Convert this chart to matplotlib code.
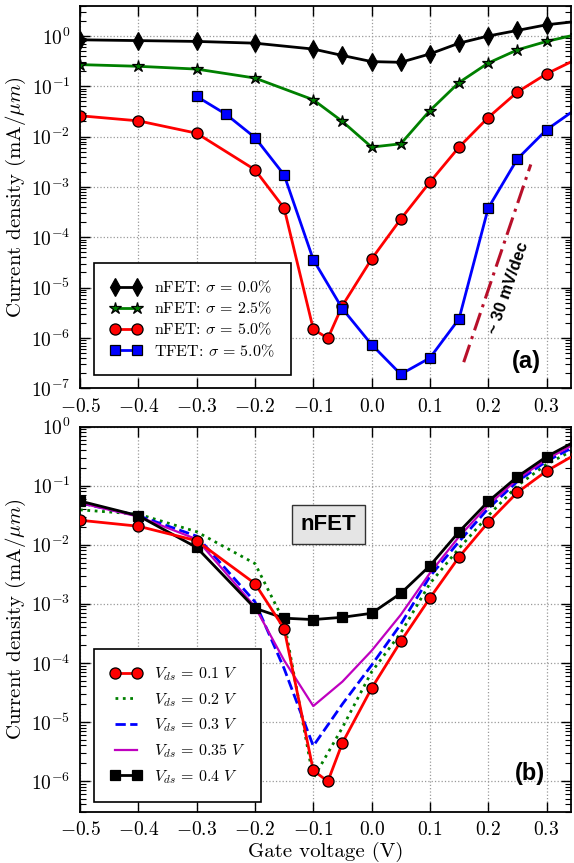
import matplotlib
matplotlib.use("Agg")
import matplotlib.pyplot as plt
from matplotlib.ticker import LogLocator, NullFormatter

plt.rcParams['font.family'] = 'serif'
plt.rcParams['font.serif'] = ['cmr10']
plt.rcParams['mathtext.fontset'] = 'cm'
plt.rcParams['axes.formatter.use_mathtext'] = True
plt.rcParams['axes.unicode_minus'] = True

# ---- data (panel a) ----
vg = [-0.5, -0.4, -0.3, -0.2, -0.1, -0.05, 0.0, 0.05, 0.1, 0.15, 0.2, 0.25, 0.3, 0.35]
nfet_s00 = [0.84, 0.81, 0.78, 0.72, 0.55, 0.41, 0.31, 0.30, 0.44, 0.72, 1.0, 1.29, 1.67, 1.94]
nfet_s25 = [0.27, 0.25, 0.22, 0.146, 0.054, 0.020, 0.0062, 0.0072, 0.033, 0.119, 0.29, 0.53, 0.78, 1.06]

vg_red = [-0.5, -0.4, -0.3, -0.2, -0.15, -0.1, -0.075, -0.05, 0.0, 0.05, 0.1, 0.15, 0.2, 0.25, 0.3, 0.35]
nfet_s50 = [0.026, 0.0206, 0.0117, 0.0022, 3.8e-4, 1.5e-6, 9.8e-7, 4.4e-6, 3.7e-5, 2.3e-4,
            1.25e-3, 6.2e-3, 0.024, 0.077, 0.177, 0.34]

vg_tfet = [-0.3, -0.25, -0.2, -0.15, -0.1, -0.05, 0.0, 0.05, 0.1, 0.15, 0.2, 0.25, 0.3, 0.35]
tfet_s50 = [0.063, 0.028, 0.0096, 1.74e-3, 3.6e-5, 3.8e-6, 7.4e-7, 1.9e-7, 4.0e-7, 2.4e-6,
            3.8e-4, 3.6e-3, 0.0137, 0.035]

slope_x = [0.158, 0.273]
slope_y = [3.3e-7, 2.8e-3]

# ---- data (panel b) ----
vg_b = [-0.5, -0.4, -0.3, -0.2, -0.15, -0.1, -0.05, 0.0, 0.05, 0.1, 0.15, 0.2, 0.25, 0.3, 0.35]
vds_02 = [0.039, 0.033, 0.0166, 4.8e-3, 5.0e-4, 1.1e-6, 8e-6, 7e-5, 3.2e-4, 2.2e-3, 8.7e-3, 0.031, 0.10, 0.23, 0.42]
vds_03 = [0.051, 0.031, 0.014, 1.08e-3, 8e-5, 3.9e-6, 2.0e-5, 9.1e-5, 4.5e-4, 2.9e-3, 0.0113, 0.041, 0.118, 0.26, 0.47]
vds_035 = [0.051, 0.030, 0.0124, 8.9e-4, 1.1e-4, 1.85e-5, 4.8e-5, 1.6e-4, 6.5e-4, 3.3e-3, 0.0137, 0.047, 0.129, 0.28, 0.52]
vds_04 = [0.055, 0.031, 0.009, 8.4e-4, 5.7e-4, 5.4e-4, 5.9e-4, 6.9e-4, 1.5e-3, 4.4e-3, 0.0166, 0.054, 0.142, 0.31, 0.57]

fig = plt.figure(figsize=(5.74, 8.63), dpi=100)
ax1 = fig.add_axes([0.1394, 0.5501, 0.8554, 0.4433])
ax2 = fig.add_axes([0.1394, 0.0594, 0.8554, 0.4462])

mk = dict(markeredgecolor='k', markeredgewidth=0.9)

ax1.plot(vg, nfet_s00, '-', color='k', marker='d', ms=9, lw=2, markerfacecolor='k', **mk,
         label=r'nFET: $\sigma\,=\,0.0\%$')
ax1.plot(vg, nfet_s25, '-', color='#008000', marker='*', ms=9, lw=2, markerfacecolor='#008000', **mk,
         label=r'nFET: $\sigma\,=\,2.5\%$')
ax1.plot(vg_red, nfet_s50, '-', color='#ff0000', marker='o', ms=8, lw=2, markerfacecolor='#ff0000', **mk,
         label=r'nFET: $\sigma\,=\,5.0\%$')
ax1.plot(vg_tfet, tfet_s50, '-', color='#0000ff', marker='s', ms=7.5, lw=2, markerfacecolor='#0000ff', **mk,
         label=r'TFET: $\sigma\,=\,5.0\%$')
ax1.plot(slope_x, slope_y, linestyle=(0, (6, 2, 1, 2)), color='#b8102a', lw=2.2)
ax1.text(0.873, 0.262, '~ 30 mV/dec', transform=ax1.transAxes, rotation=71,
         ha='center', va='center', fontsize=12, fontweight='bold', family='Liberation Sans')
ax1.text(0.91, 0.07, '(a)', transform=ax1.transAxes, ha='center', va='center',
         fontsize=17, fontweight='bold', family='Liberation Sans')
ax1.set_ylim(1e-7, 4)

ax2.plot(vg_red, nfet_s50, '-', color='#ff0000', marker='o', ms=8, lw=2, markerfacecolor='#ff0000', **mk,
         label=r'$V_{ds}\,=\,0.1\ V$', zorder=5)
ax2.plot(vg_b, vds_02, ':', color='#008000', lw=2, label=r'$V_{ds}\,=\,0.2\ V$')
ax2.plot(vg_b, vds_03, '--', color='#0000ff', lw=2, label=r'$V_{ds}\,=\,0.3\ V$')
ax2.plot(vg_b, vds_035, '-', color='#bf00bf', lw=1.6, label=r'$V_{ds}\,=\,0.35\ V$')
ax2.plot(vg_b, vds_04, '-', color='k', marker='s', ms=7.5, lw=2, markerfacecolor='k', **mk,
         label=r'$V_{ds}\,=\,0.4\ V$', zorder=4)
ax2.text(0.506, 0.745, 'nFET', transform=ax2.transAxes, ha='center', va='center',
         fontsize=16, fontweight='bold', family='Liberation Sans',
         bbox=dict(boxstyle='square,pad=0.4', facecolor='#e5e5e5', edgecolor='#333333', lw=1))
ax2.text(0.916, 0.10, '(b)', transform=ax2.transAxes, ha='center', va='center',
         fontsize=17, fontweight='bold', family='Liberation Sans')
ax2.set_ylim(3e-7, 1)
ax2.set_xlabel('Gate voltage (V)', fontsize=15, labelpad=2)

for ax in (ax1, ax2):
    ax.set_yscale('log')
    ax.set_xlim(-0.5, 0.342)
    ax.set_xticks([-0.5, -0.4, -0.3, -0.2, -0.1, 0.0, 0.1, 0.2, 0.3])
    ax.yaxis.set_major_locator(LogLocator(base=10, numticks=20))
    ax.yaxis.set_minor_locator(LogLocator(base=10, subs=range(2, 10), numticks=20))
    ax.yaxis.set_minor_formatter(NullFormatter())
    ax.grid(True, which='major', linestyle=':', color='#999999', lw=0.9)
    ax.tick_params(which='both', direction='in', top=True, right=True, labelsize=14)
    ax.tick_params(which='major', length=7, width=1)
    ax.tick_params(which='minor', length=4, width=0.8)
    ax.tick_params(axis='x', pad=7)
    ax.tick_params(axis='y', pad=7)
    for s in ax.spines.values():
        s.set_linewidth(1.3)
    ax.set_ylabel(r'Current density $(\mathrm{mA}/\mu m)$', fontsize=15, labelpad=2)

leg_kw = dict(numpoints=2, fancybox=False, framealpha=1, edgecolor='k', fontsize=11.5,
              handlelength=2.0, handletextpad=0.75, borderpad=1.0, borderaxespad=0)
l1 = ax1.legend(loc='lower left', bbox_to_anchor=(0.0285, 0.035), labelspacing=0.3, **leg_kw)
l2 = ax2.legend(loc='lower left', bbox_to_anchor=(0.0285, 0.026), labelspacing=0.5, **leg_kw)
for lg in (l1, l2):
    lg.get_frame().set_linewidth(1.2)

fig.savefig('out.png', dpi=100)
